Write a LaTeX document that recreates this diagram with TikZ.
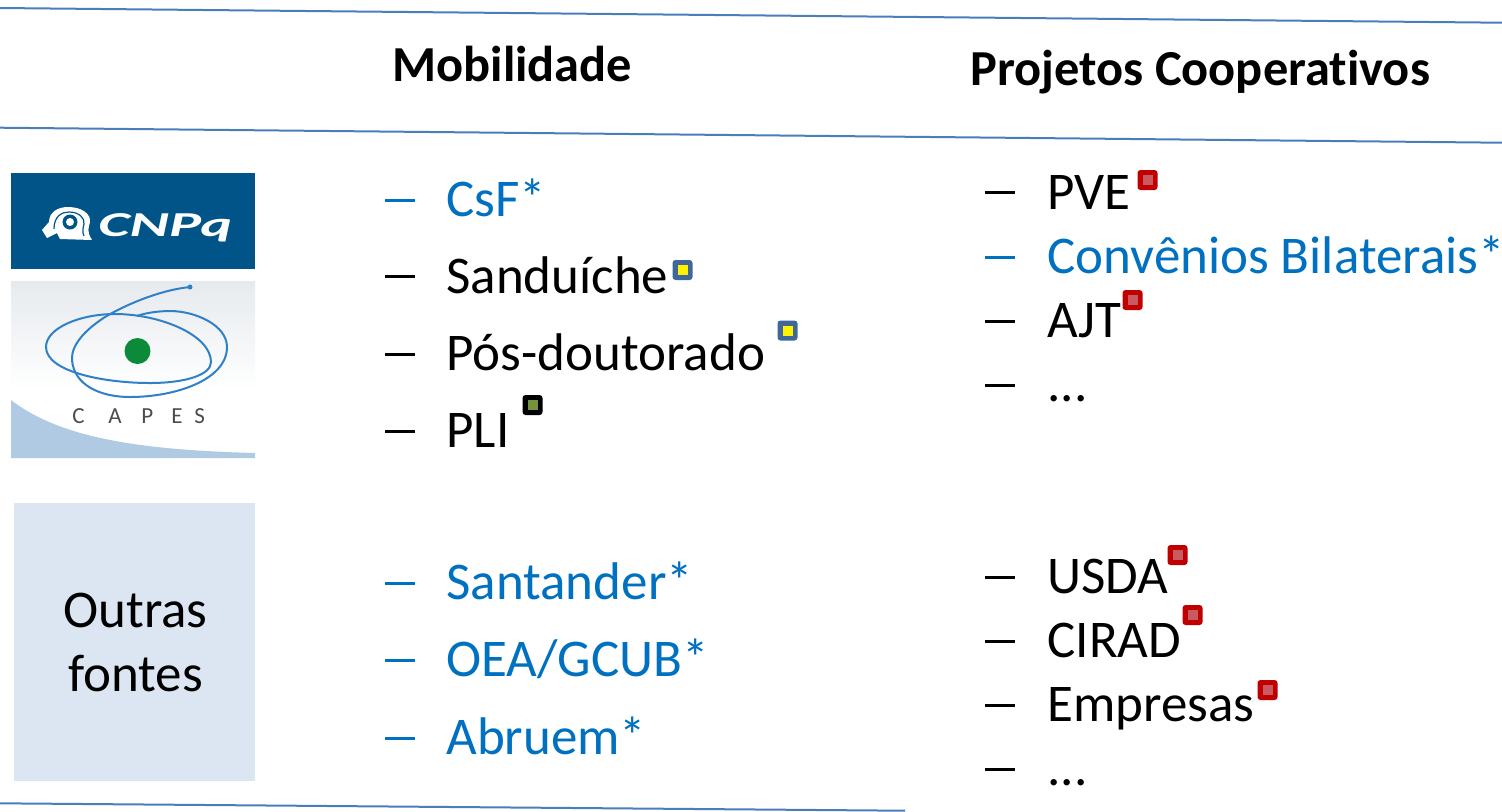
\documentclass[tikz,border=0pt]{standalone}
\usepackage{fontspec}
\setmainfont[Ligatures=NoCommon]{Carlito}
\definecolor{linkblue}{HTML}{0070C0}
\definecolor{rule}{HTML}{4A7EBB}
\definecolor{cnpqblue}{HTML}{005488}
\definecolor{panel}{HTML}{DCE6F2}
\definecolor{capesblue}{HTML}{2F80C8}
\definecolor{capesgreen}{HTML}{0B8A3A}
\definecolor{capeswave}{HTML}{B0CAE4}
\definecolor{capestop}{HTML}{E6EAEE}
\definecolor{slatebox}{HTML}{3F6797}
\definecolor{redbox}{HTML}{C00000}
\definecolor{redfill}{HTML}{C95A5F}
\definecolor{olive}{HTML}{76923C}
\tikzset{
  x=0.5pt,y=-0.5pt,
  rulestyle/.style={draw=rule,line width=1pt},
  head/.style={anchor=base west,inner sep=0,font=\fontsize{25.2}{30}\selectfont\bfseries},
  item/.style={anchor=base west,inner sep=0,font=\fontsize{26.5}{30}\selectfont},
  blueitem/.style={item,text=linkblue},
  dashitem/.style={line width=1.5pt,draw=black},
  dashblue/.style={line width=1.5pt,draw=linkblue},
  orbit/.style={draw=capesblue,line width=1pt},
}
\newcommand{\mk}[4]{% x y outer inner
  \fill[#3,rounded corners=1.5pt] (#1-10,#2-10) rectangle (#1+10,#2+10);
  \fill[#4] (#1-5,#2-5) rectangle (#1+5,#2+5);
}
\begin{document}
\begin{tikzpicture}
\useasboundingbox (0,0) rectangle (1502,811);
\fill[white] (0,0) rectangle (1502,811);
% rules
\coordinate (r1a) at (0,8); \coordinate (r1b) at (1502,22.7);
\coordinate (r2a) at (0,127.7); \coordinate (r2b) at (1502,142.7);
\coordinate (r3a) at (0,803.3); \coordinate (r3b) at (905,810.7);
\draw[rulestyle] (r1a)--(r1b);
\draw[rulestyle] (r2a)--(r2b);
\draw[rulestyle] (r3a)--(r3b);
% headings
\node[head] (hm) at (392,81) {Mobilidade};
\node[head] (hp) at (970,85) {Projetos Cooperativos};
% CNPq logo
\fill[cnpqblue] (11,173) rectangle (255,269);
\node[anchor=base west,inner sep=0,text=white,font=\fontsize{17.5}{20}\selectfont\bfseries\itshape] (cnpq) at (98,236) {\scalebox{1.72}[1]{CNPq}};
\fill[white] (47,238) -- (42,230) -- (49,222) .. controls (49,212) and (58,207) .. (68,207) .. controls (82,207) and (91,214) .. (90,222) .. controls (89,228) and (86,230) .. (92,240) -- (60,239) -- (57,233) -- cycle;
\draw[cnpqblue,line width=0.6pt] (54,229) .. controls (54,216) and (62,212) .. (69,212) .. controls (79,212) and (85,218) .. (84,224) .. controls (83,228) and (82,232) .. (84,236);
\fill[cnpqblue] (70,222) circle (7.5);
\fill[white] (70,222) circle (4);
% CAPES logo
\shade[top color=capestop,bottom color=white] (11,281) rectangle (255,390);
\fill[white] (11,390) rectangle (255,458);
\fill[capeswave] (11,400) .. controls (60,438) and (140,450) .. (255,453) -- (255,458) -- (11,458) -- cycle;
\draw[orbit] (190,287) .. controls (160,290) and (125,305) .. (105,317) .. controls (85,330) and (71,345) .. (72,360) .. controls (74,385) and (100,397) .. (130,397) .. controls (175,397) and (227,380) .. (227,347) .. controls (227,325) and (195,311) .. (170,311) .. controls (158,311) and (145,313) .. (137,316);
\draw[orbit] (46,347) .. controls (46,328) and (80,314) .. (115,314) .. controls (160,314) and (211,335) .. (211,362) .. controls (211,375) and (185,383) .. (150,383) .. controls (105,383) and (46,372) .. (46,347) -- cycle;
\fill[capesblue] (190,287) circle (2.5);
\fill[capesgreen] (137.5,351) circle (13);
\node[anchor=base west,inner sep=0,text=black!70,font=\fontsize{11.5}{12}\selectfont] (capes) at (72,423) {\makebox[18pt][l]{C}\makebox[16.5pt][l]{A}\makebox[15pt][l]{P}\makebox[11.5pt][l]{E}S};
% panel
\node[fill=panel,minimum width=120.5pt,minimum height=139pt,inner sep=0,anchor=north west] (fontes) at (14,503) {};
\node[item,anchor=base] (f1) at (135.5,627) {Outras};
\node[item,anchor=base] (f2) at (135.5,691) {fontes};
% left column
\draw[dashblue] (385,200)--(415,200);
\draw[dashitem] (385,276)--(415,276);
\draw[dashitem] (385,354)--(415,354);
\draw[dashitem] (385,431)--(415,431);
\draw[dashblue] (385,583)--(415,583);
\draw[dashblue] (385,660)--(415,660);
\draw[dashblue] (385,738)--(415,738);
\node[blueitem] (a1) at (446,216.5) {CsF*};
\node[item] (a2) at (446,293.5) {Sanduíche};
\node[item] (a3) at (446,370.5) {Pós-doutorado};
\node[item] (a4) at (446,447.5) {PLI};
\node[blueitem] (a5) at (446,599.5) {Santander*};
\node[blueitem] (a6) at (446,676.5) {OEA/GCUB*};
\node[blueitem] (a7) at (446,754.5) {Abruem*};
% right column
\draw[dashitem] (985,192)--(1015,192);
\draw[dashblue] (985,257)--(1015,257);
\draw[dashitem] (985,321)--(1015,321);
\draw[dashitem] (985,385)--(1015,385);
\draw[dashitem] (985,577)--(1015,577);
\draw[dashitem] (985,641)--(1015,641);
\draw[dashitem] (985,705)--(1015,705);
\draw[dashitem] (985,769)--(1015,769);
\node[item] (b1) at (1047,209.5) {PVE};
\node[blueitem] (b2) at (1047,273.5) {Convênios Bilaterais*};
\node[item] (b3) at (1047,337.5) {AJT};
\node[item] (b4) at (1047,401.5) {...};
\node[item] (b5) at (1047,593.5) {USDA};
\node[item] (b6) at (1047,657.5) {CIRAD};
\node[item] (b7) at (1047,721.5) {Empresas};
\node[item] (b8) at (1047,785.5) {...};
% markers
\mk{682.5}{270}{slatebox}{yellow}
\mk{787.5}{330.5}{slatebox}{yellow}
\mk{532.5}{405}{black}{olive}
\mk{1147.5}{180}{redbox}{redfill}
\mk{1132.5}{300}{redbox}{redfill}
\mk{1177.5}{555}{redbox}{redfill}
\mk{1192.5}{615}{redbox}{redfill}
\mk{1267.5}{690}{redbox}{redfill}
\end{tikzpicture}
\end{document}
